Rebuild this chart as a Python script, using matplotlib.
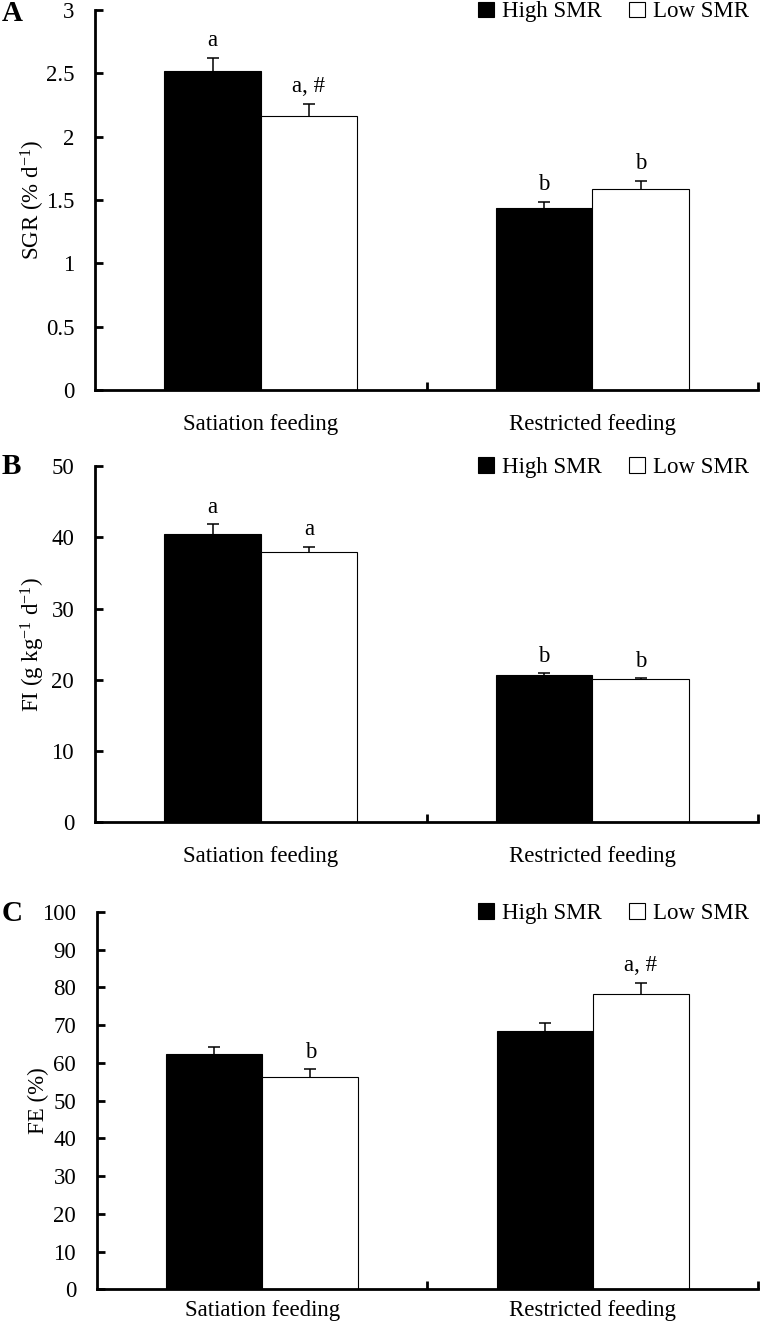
import numpy as np
import matplotlib
matplotlib.use('Agg')
import matplotlib.pyplot as plt
from matplotlib.ticker import FuncFormatter

plt.rcParams['font.family'] = ['Liberation Serif', 'DejaVu Serif']
plt.rcParams['mathtext.fontset'] = 'custom'
plt.rcParams['mathtext.rm'] = 'Liberation Serif'
plt.rcParams['mathtext.it'] = 'Liberation Serif:italic'
plt.rcParams['mathtext.bf'] = 'Liberation Serif:bold'

#-------------------------------------------------------------------------------
GROUPS = ['Satiation feeding', 'Restricted feeding']
SERIES = ['High SMR', 'Low SMR']

sgr_high = [2.52, 1.44]
sgr_high_se = [0.105, 0.045]
sgr_low = [2.16, 1.59]
sgr_low_se = [0.10, 0.06]
sgr_high_sig = ['a', 'b']
sgr_low_sig = ['a, #', 'b']

fi_high = [40.4, 20.66]
fi_high_se = [1.4, 0.25]
fi_low = [37.9, 20.05]
fi_low_se = [0.8, 0.15]
fi_high_sig = ['a', 'b']
fi_low_sig = ['a', 'b']

fe_high = [62.3, 68.5]
fe_high_se = [1.9, 2.2]
fe_low = [56.3, 78.2]
fe_low_se = [2.0, 3.0]
fe_high_sig = ['', '']
fe_low_sig = ['b', 'a, #']

FS = 16.5
BAR_W = 0.291


def upper_errorbar(ax, xs, vals, ses):
    n = len(vals)
    eb = ax.errorbar(xs, vals, yerr=[[0] * n, ses], fmt='none',
            ecolor='black', elinewidth=1.1, capsize=4, capthick=1.1,
            zorder=1)
    # hide the zero-length lower caps sitting on the bar tops
    for cap in eb[1]:
        if np.allclose(cap.get_ydata(), vals):
            cap.set_visible(False)


def draw_panel(ax, high, high_se, low, low_se, high_sig, low_sig,
        ymax, ystep, ylabel, xpad):
    x = np.arange(len(GROUPS))
    b1 = ax.bar(x - BAR_W / 2, high, BAR_W, color='black', edgecolor='black',
            linewidth=0.8, label=SERIES[0], zorder=2)
    b2 = ax.bar(x + BAR_W / 2, low, BAR_W, color='white', edgecolor='black',
            linewidth=0.8, label=SERIES[1], zorder=2)
    upper_errorbar(ax, x - BAR_W / 2, high, high_se)
    upper_errorbar(ax, x + BAR_W / 2, low, low_se)

    for xs, vals, ses, sigs in ((x - BAR_W / 2, high, high_se, high_sig),
                                (x + BAR_W / 2, low, low_se, low_sig)):
        for xi, v, s, t in zip(xs, vals, ses, sigs):
            if t:
                ax.annotate(t, (xi, v + s), xytext=(0, 8.5),
                        textcoords='offset points', ha='center',
                        va='baseline', fontsize=FS)

    ax.set_xlim(-0.5, 1.5)
    ax.set_ylim(0, ymax)
    ax.set_yticks(np.arange(0, ymax + ystep / 2, ystep))
    ax.yaxis.set_major_formatter(FuncFormatter(lambda v, p: f'{v:g}'))

    # group boundary ticks (no labels), group names on minor ticks
    ax.set_xticks([0.5, 1.5])
    ax.set_xticklabels(['', ''])
    ax.set_xticks(x, minor=True)
    ax.set_xticklabels(GROUPS, minor=True, fontsize=FS)
    ax.tick_params(axis='x', which='minor', length=0, pad=xpad)
    ax.tick_params(axis='x', which='major', direction='in', length=6,
            width=2)
    ax.tick_params(axis='y', direction='in', length=6, width=2,
            labelsize=FS, pad=15)

    for side in ('top', 'right'):
        ax.spines[side].set_visible(False)
    for side in ('left', 'bottom'):
        ax.spines[side].set_linewidth(2)

    ax.set_ylabel(ylabel, fontsize=FS)
    ax.yaxis.set_label_coords(-0.072, 0.5)

    ax.legend(handles=[b1, b2], loc='center right',
            bbox_to_anchor=(0.986, 0.995), ncol=2, frameon=False,
            fontsize=FS, handlelength=0.68, handleheight=0.68,
            handletextpad=0.35, columnspacing=1.2, borderpad=0,
            borderaxespad=0)


fig = plt.figure(figsize=(7.6, 13.24), dpi=100)
# left, bottom, width, height
ax_a = fig.add_axes([0.125, 0.7054, 0.8724, 0.2870])
ax_b = fig.add_axes([0.125, 0.3789, 0.8724, 0.2691])
ax_c = fig.add_axes([0.1276, 0.0262, 0.8697, 0.2850])

draw_panel(ax_a, sgr_high, sgr_high_se, sgr_low, sgr_low_se,
        sgr_high_sig, sgr_low_sig, 3, 0.5, r'SGR (% d$^{-1}$)', 17)
draw_panel(ax_b, fi_high, fi_high_se, fi_low, fi_low_se,
        fi_high_sig, fi_low_sig, 50, 10, r'FI (g kg$^{-1}$ d$^{-1}$)', 17)
draw_panel(ax_c, fe_high, fe_high_se, fe_low, fe_low_se,
        fe_high_sig, fe_low_sig, 100, 10, 'FE (%)', 8)

for label, y in (('A', 0.990), ('B', 0.6473), ('C', 0.3104)):
    fig.text(0.002, y, label, fontsize=21, fontweight='bold',
            ha='left', va='center')

fig.savefig('out.png', dpi=100)
